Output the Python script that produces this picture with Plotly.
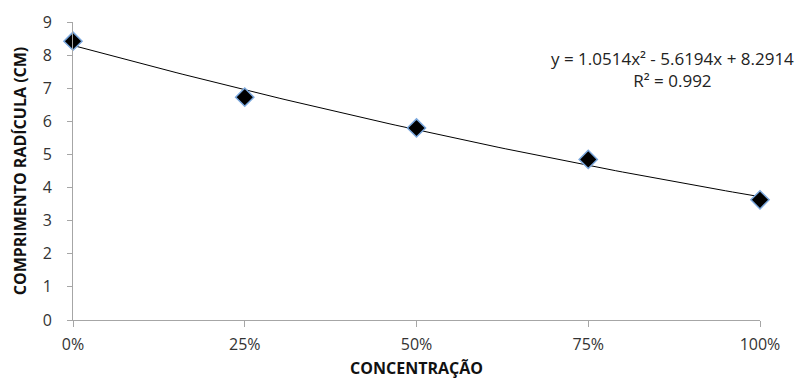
import numpy as np
import plotly.graph_objects as go

concentracao = [0.0, 0.25, 0.5, 0.75, 1.0]
x_tick_labels = ["0%", "25%", "50%", "75%", "100%"]
comprimento = [8.42, 6.73, 5.80, 4.85, 3.63]
y_ticks = [0, 1, 2, 3, 4, 5, 6, 7, 8, 9]

# trendline coefficients shown on the chart
a2, a1, a0 = 1.0514, -5.6194, 8.2914
r2 = 0.992

xs = np.linspace(0, 1, 101)
ys = a2 * xs**2 + a1 * xs + a0

font_family = "Open Sans, Liberation Sans, sans-serif"

fig = go.Figure()
fig.add_trace(go.Scatter(x=xs, y=ys, mode="lines",
                         line=dict(color="black", width=1), hoverinfo="skip",
                         showlegend=False, cliponaxis=False))
fig.add_trace(go.Scatter(x=concentracao, y=comprimento, mode="markers",
                         marker=dict(symbol="diamond", size=14, color="black",
                                     line=dict(color="#7aa7dd", width=1.5)),
                         showlegend=False, cliponaxis=False))

fig.add_annotation(x=0.872, y=7.58, xref="x", yref="y",
                   text=f"y = {a2}x² - {abs(a1)}x + {a0}<br>R² = {r2}",
                   showarrow=False, align="center", xanchor="center", yanchor="middle",
                   font=dict(family=font_family, size=17, color="#222"))

fig.update_layout(
    width=804, height=380,
    margin=dict(l=73, r=44, t=22, b=60),
    plot_bgcolor="white", paper_bgcolor="white",
    font=dict(family=font_family, size=16, color="#333"),
    xaxis=dict(range=[0, 1], tickvals=concentracao, ticktext=x_tick_labels,
               showgrid=False, zeroline=False, showline=True, linecolor="#a6a6a6",
               linewidth=1, ticks="outside", ticklen=6, tickcolor="#a6a6a6",
               ticklabelstandoff=4, automargin=False,
               title=dict(text="<b>CONCENTRAÇÃO</b>", font=dict(size=16, color="#111"), standoff=8)),
    yaxis=dict(range=[0, 9], tickvals=y_ticks, showgrid=False, zeroline=False,
               showline=True, linecolor="#a6a6a6", linewidth=1, ticks="outside",
               ticklen=5, tickcolor="#a6a6a6", ticklabelstandoff=12, automargin=False,
               title=dict(text="<b>COMPRIMENTO RADÍCULA (CM)</b>", font=dict(size=16, color="#111"), standoff=12)),
)

fig.write_html("out.html", config={"displayModeBar": False},
               post_script="document.body.style.margin='0';")
